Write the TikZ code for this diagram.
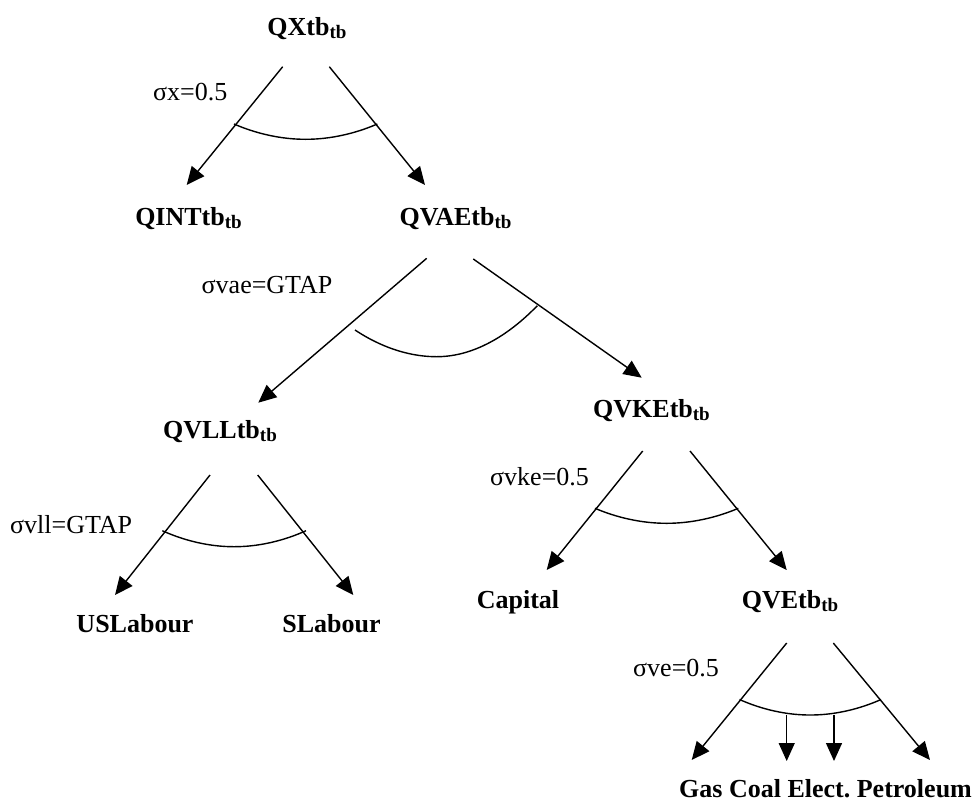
\documentclass[tikz,border=0pt]{standalone}
\usepackage{fontspec}
\setmainfont{Liberation Serif}
\usetikzlibrary{arrows.meta}
% lowered small "tb" index after each quantity name
\newcommand\tbsub{\raisebox{-3pt}{\fontsize{19}{19}\selectfont tb}}

\begin{document}
\begin{tikzpicture}[x=1pt,y=-1pt,
  lbl/.style={inner sep=0pt, anchor=base, font=\fontsize{26}{30}\selectfont\bfseries},
  sig/.style={inner sep=0pt, anchor=base west, font=\fontsize{26}{30}\selectfont},
  branch/.style={line width=1.4pt, -{Triangle[length=18pt,width=16pt]}},
  nest/.style={line width=1.4pt}]
\useasboundingbox (0,0) rectangle (973,806);

% quantity nodes
\node[lbl] (qx)   at (307,35)    {QXtb\tbsub};
\node[lbl] (qint) at (188.5,225) {QINTtb\tbsub};
\node[lbl] (qvae) at (455.5,225) {QVAEtb\tbsub};
\node[lbl] (qvll) at (220,438)   {QVLLtb\tbsub};
\node[lbl] (qvke) at (651.5,417) {QVKEtb\tbsub};
\node[lbl] (usl)  at (135,632)   {USLabour};
\node[lbl] (sl)   at (331.5,632) {SLabour};
\node[lbl] (cap)  at (518,608)   {Capital};
\node[lbl] (qve)  at (790,608)   {QVEtb\tbsub};
\node[lbl] (nrg)  at (825.5,797) {Gas Coal Elect.\ Petroleum};

% substitution elasticities
\node[sig] (sx)   at (153,100)   {σx=0.5};
\node[sig] (svae) at (201.5,293) {σvae=GTAP};
\node[sig] (svll) at (10,533)    {σvll=GTAP};
\node[sig] (svke) at (490,485)   {σvke=0.5};
\node[sig] (sve)  at (633,676.5) {σve=0.5};

% branch end points
\coordinate (qxA) at (282.7,66.7);  \coordinate (qxB) at (329.3,66.7);
\coordinate (qintT) at (186.7,185); \coordinate (qvaeT) at (425,185);
\coordinate (qvaeA) at (426.7,258.3); \coordinate (qvaeB) at (473.3,259);
\coordinate (qvllT) at (258.3,402.7); \coordinate (qvkeT) at (641.7,377.7);
\coordinate (qvllA) at (210,475);   \coordinate (qvllB) at (257.7,475);
\coordinate (uslT) at (115,595);    \coordinate (slT) at (353.3,595);
\coordinate (qvkeA) at (642.7,451); \coordinate (qvkeB) at (690,451);
\coordinate (capT) at (546.7,570);  \coordinate (qveT) at (786.7,570);
\coordinate (qveA) at (786.7,643);  \coordinate (qveB) at (833.3,643);
\coordinate (gasT) at (691.7,760);  \coordinate (petT) at (930,760);
\coordinate (coalA) at (786.7,714.5); \coordinate (coalT) at (786.7,761);
\coordinate (elecA) at (834,714.5);   \coordinate (elecT) at (834,761);

% branches
\draw[branch] (qxA) -- (qintT);
\draw[branch] (qxB) -- (qvaeT);
\draw[branch] (qvaeA) -- (qvllT);
\draw[branch] (qvaeB) -- (qvkeT);
\draw[branch] (qvllA) -- (uslT);
\draw[branch] (qvllB) -- (slT);
\draw[branch] (qvkeA) -- (capT);
\draw[branch] (qvkeB) -- (qveT);
\draw[branch] (qveA) -- (gasT);
\draw[branch] (qveB) -- (petT);
\draw[branch] (coalA) -- (coalT);
\draw[branch] (elecA) -- (elecT);

% nesting arcs
\draw[nest] (234,124) parabola bend (305.6,139.3) (377.3,124);
\draw[nest] (355,330) parabola bend (436.7,356.7) (537.3,305.7);
\draw[nest] (162.3,530.7) parabola bend (234.1,546.7) (306,530.7);
\draw[nest] (595,508.3) parabola bend (666.6,523.3) (738.3,508.3);
\draw[nest] (739.5,699.5) parabola bend (810.2,715) (881,699.5);
\end{tikzpicture}
\end{document}
